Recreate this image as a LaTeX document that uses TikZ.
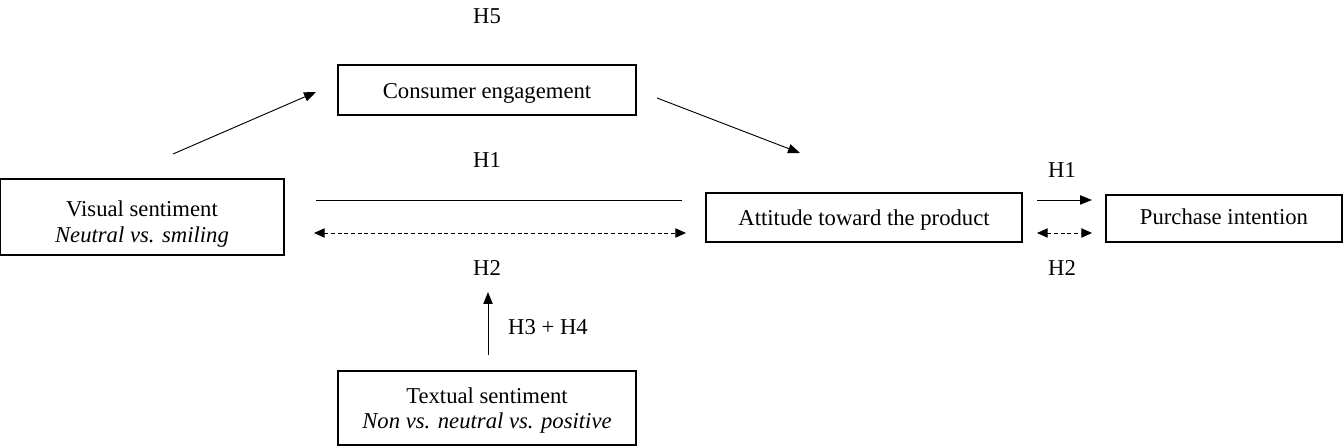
\documentclass[tikz,border=0pt]{standalone}
\usepackage{fontspec}
\setmainfont{Liberation Serif}
\usetikzlibrary{arrows.meta}
\newcommand\mylower[2]{\raisebox{-#1}[\height][\depth]{\begin{tabular}{@{}c@{}}#2\end{tabular}}}
\begin{document}
\begin{tikzpicture}[x=0.75pt,y=-0.75pt,
  box/.style={draw,line width=1.3pt,inner sep=0pt,font=\fontsize{17}{19}\selectfont,align=center},
  lab/.style={font=\fontsize{17}{19}\selectfont,inner sep=0pt},
  conn/.style={line width=0.7pt,-{Triangle[length=9pt,width=7pt]}},
  dconn/.style={line width=0.7pt,dashed,dash pattern=on 3pt off 2pt,{Triangle[length=8pt,width=7pt]}-{Triangle[length=8pt,width=7pt]}}]
\useasboundingbox (0,0) rectangle (1344,448);
\node[box,minimum width=284*0.75pt,minimum height=76*0.75pt] (vis) at (142,217) {\mylower{5.5pt}{Visual sentiment\\ \textit{Neutral vs. smiling}}};
\node[box,minimum width=298*0.75pt,minimum height=50*0.75pt] (ce) at (487,90) {\mylower{2.5pt}{Consumer engagement}};
\node[box,minimum width=316*0.75pt,minimum height=49*0.75pt] (att) at (864,217.5) {\mylower{2.5pt}{Attitude toward the product}};
\node[box,minimum width=236*0.75pt,minimum height=47*0.75pt] (pi) at (1224,218.5) {\mylower{0.5pt}{Purchase intention}};
\node[box,minimum width=298*0.75pt,minimum height=74*0.75pt] (txt) at (487,408) {\mylower{2pt}{Textual sentiment\\ \textit{Non vs. neutral vs. positive}}};
\node[lab] (h5) at (487,16) {H5};
\node[lab] (h1a) at (487,160) {H1};
\node[lab] (h2a) at (487,268) {H2};
\node[lab] (h34) at (548,327) {H3 + H4};
\node[lab] (h1b) at (1062,170) {H1};
\node[lab] (h2b) at (1062,268) {H2};
\coordinate (a1s) at (173,154); \coordinate (a1e) at (316,92);
\coordinate (a2s) at (657,98); \coordinate (a2e) at (800,153);
\coordinate (l1s) at (316,200); \coordinate (l1e) at (682,200);
\coordinate (d1s) at (314,233); \coordinate (d1e) at (686,233);
\coordinate (r1s) at (1037,200); \coordinate (r1e) at (1092,200);
\coordinate (d2s) at (1037,233); \coordinate (d2e) at (1092,233);
\coordinate (us) at (488,355); \coordinate (ue) at (488,292);
\draw[conn] (a1s) -- (a1e);
\draw[conn] (a2s) -- (a2e);
\draw[line width=0.7pt] (l1s) -- (l1e);
\draw[dconn] (d1s) -- (d1e);
\draw[conn] (r1s) -- (r1e);
\draw[dconn] (d2s) -- (d2e);
\draw[conn] (us) -- (ue);
\end{tikzpicture}
\end{document}
